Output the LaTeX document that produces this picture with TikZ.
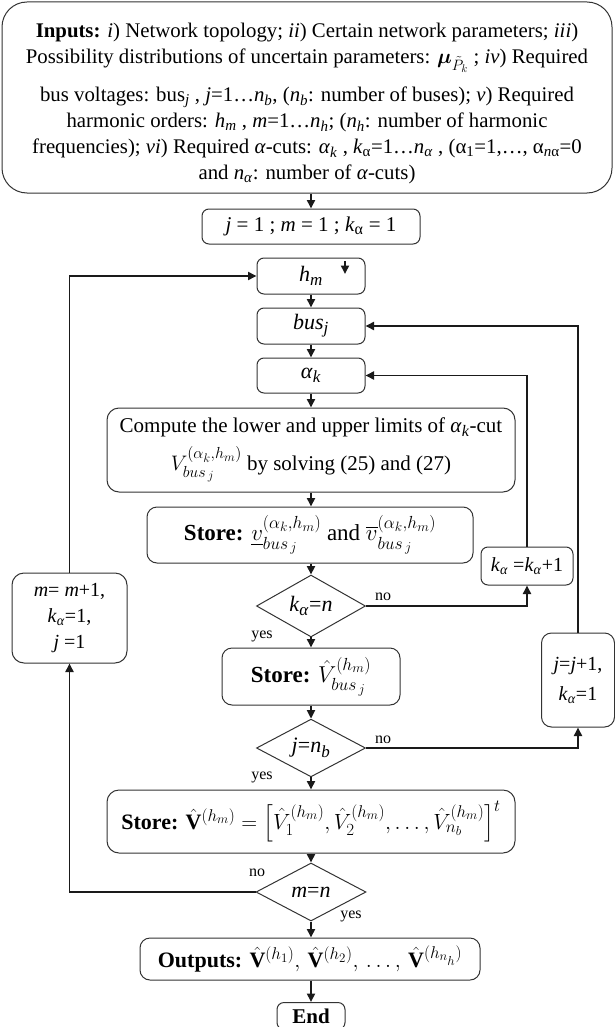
\RequirePackage{fix-cm}
\documentclass[tikz,border=0pt]{standalone}
\usepackage{amsmath,bm}
\usepackage{fontspec}
\setmainfont{Liberation Serif}[ItalicFont={Liberation Serif Italic},BoldFont={Liberation Serif Bold},BoldItalicFont={Liberation Serif Bold Italic}]
\usetikzlibrary{arrows.meta,shapes.geometric}
\DeclareMathSizes{20.8}{20.8}{15}{11}
\DeclareMathSizes{21}{21}{16}{12.5}
\DeclareMathSizes{22}{22}{17}{13}
\DeclareMathSizes{23}{23}{17.5}{13.5}
\newcommand\fs[2]{\fontsize{#1}{#2}\selectfont}
\definecolor{edge}{HTML}{333333}
\definecolor{wire}{HTML}{1A1A1A}
\tikzset{
  box/.style={draw=edge, line width=1pt, rounded corners=9pt, inner sep=0pt, align=center, font=\fs{21}{26}},
  dia/.style={draw=edge, line width=1pt, diamond, inner sep=0pt, font=\fs{22}{26}},
  conn/.style={draw=wire, line width=1.9pt, -{Triangle[length=8.5pt,width=8pt]}},
  lbl/.style={font=\fs{16}{18}, inner sep=0pt},
}
\begin{document}
\begin{tikzpicture}[x=1pt,y=-1pt]
\useasboundingbox (0,0) rectangle (615,1027);
% nodes
\node[box, rounded corners=25pt, minimum width=610pt, minimum height=191pt, font=\fs{20.8}{26}] (inp) at (307,97.5)
 {\rule{0pt}{27pt}\textbf{Inputs:} \textit{i}) Network topology; \textit{ii}) Certain network parameters; \textit{iii})\\
  Possibility distributions of uncertain parameters: $\bm{\mu}_{\tilde{P}_k}$ ; \textit{iv}) Required\\[12pt]
  bus voltages: bus\textsubscript{\textit{j}} , \textit{j}=1\ldots\textit{n}\textsubscript{\textit{b}}, (\textit{n}\textsubscript{\textit{b}}: number of buses); \textit{v}) Required\\
  harmonic orders: \textit{h}\textsubscript{\textit{m}} , \textit{m}=1\ldots\textit{n}\textsubscript{\textit{h}}; (\textit{n}\textsubscript{\textit{h}}: number of harmonic\\
  frequencies); \textit{vi}) Required \textit{α}-cuts: \textit{α}\textsubscript{\textit{k}} , \textit{k}\textsubscript{α}=1\ldots\textit{n}\textsubscript{\textit{α}} , (α\textsubscript{1}=1,\ldots, α\textsubscript{\textit{n}α}=0\\
  and \textit{n}\textsubscript{\textit{α}}: number of \textit{α}-cuts)};
\node[box, rounded corners=7pt, minimum width=218pt, minimum height=35pt] (init) at (311,226.5)
 {\textit{j} = 1 ; \textit{m} = 1 ; \textit{k}\textsubscript{α} = 1};
\node[box, rounded corners=7pt, minimum width=108pt, minimum height=36pt, font=\fs{22}{26}] (hm) at (311,276)
 {\textit{h}\textsubscript{\textit{m}}};
\node[box, rounded corners=7pt, minimum width=108pt, minimum height=36pt, font=\fs{22}{26}] (bus) at (311,326)
 {\textit{bus}\textsubscript{\textit{j}}};
\node[box, rounded corners=7pt, minimum width=108pt, minimum height=35pt, font=\fs{22}{26}] (alp) at (311,375.5)
 {\textit{α}\textsubscript{\textit{k}}};
\node[box, rounded corners=12pt, minimum width=408pt, minimum height=84pt] (comp) at (311,450)
 {Compute the lower and upper limits of \textit{α}\textsubscript{\textit{k}}-cut\\[9pt]
  $V_{bus_{\,j}}^{(\alpha_k,h_m)}$ by solving (25) and (27)};
\node[box, rounded corners=10pt, minimum width=326pt, minimum height=56pt, font=\fs{23}{26}] (st1) at (310,535)
 {\textbf{Store:} $\underline{v}^{(\alpha_k,h_m)}_{bus_{\,j}}$ and $\overline{v}^{(\alpha_k,h_m)}_{bus_{\,j}}$};
\node[box, rounded corners=7pt, minimum width=92pt, minimum height=38pt, font=\fs{20}{24}] (kinc) at (527,566)
 {\textit{k}\textsubscript{\textit{α}} =\textit{k}\textsubscript{\textit{α}}+1};
\node[dia, minimum width=109pt, minimum height=55pt] (d1) at (311,606)
 {\textit{k}\textsubscript{\textit{α}}=\textit{n}};
\node[box, rounded corners=10pt, minimum width=178pt, minimum height=57pt, font=\fs{23}{26}] (st2) at (311,676.5)
 {\textbf{Store:} $\hat{V}^{(h_m)}_{bus_{\,j}}$};
\node[dia, minimum width=109pt, minimum height=55pt] (d2) at (311,748)
 {\textit{j}=\textit{n}\textsubscript{\textit{b}}};
\node[box, rounded corners=10pt, minimum width=73pt, minimum height=94pt, font=\fs{20}{30}] (jbox) at (578,680)
 {\textit{j}=\textit{j}+1,\\ \textit{k}\textsubscript{\textit{α}}=1};
\node[box, rounded corners=12pt, minimum width=115pt, minimum height=90pt, font=\fs{20}{26}] (mbox) at (69.5,618)
 {\textit{m}= \textit{m}+1,\\ \textit{k}\textsubscript{\textit{α}}=1,\\ \textit{j} =1};
\node[box, rounded corners=12pt, minimum width=408pt, minimum height=63pt, font=\fs{22}{26}] (st3) at (311,821.5)
 {\textbf{Store:} $\hat{\mathbf{V}}^{(h_m)}=\left[\hat{V}_1^{(h_m)},\hat{V}_2^{(h_m)},\ldots,\hat{V}_{n_b}^{(h_m)}\right]^t$};
\node[dia, minimum width=110pt, minimum height=58pt] (d3) at (311,892)
 {\textit{m}=\textit{n}};
\node[box, rounded corners=10pt, minimum width=340pt, minimum height=42pt, font=\fs{22}{26}] (outp) at (310,959)
 {\textbf{Outputs:} $\hat{\mathbf{V}}^{(h_1)},\,\hat{\mathbf{V}}^{(h_2)},\,\ldots,\,\hat{\mathbf{V}}^{(h_{n_h})}$};
\node[box, rounded corners=7pt, minimum width=68pt, minimum height=27pt, font=\fs{21}{26}, anchor=north] (endn) at (311,1002)
 {\textbf{End}};
% labels
\node[lbl] (no1) at (383,597) {no};
\node[lbl] (yes1) at (262,636) {yes};
\node[lbl] (no2) at (383,740) {no};
\node[lbl] (yes2) at (262,777) {yes};
\node[lbl] (no3) at (257,873) {no};
\node[lbl] (yes3) at (351,916) {yes};
% connectors
\draw[conn] (init.north |- inp.south) -- (init.north);
\coordinate (hmA) at (345,261);
\coordinate (hmB) at (345,274);
\draw[conn] (hmA) -- (hmB);
\draw[conn] (hm.south) -- (bus.north);
\draw[conn] (bus.south) -- (alp.north);
\draw[conn] (alp.south) -- (comp.north);
\draw[conn] (comp.south) -- (st1.north -| comp.south);
\draw[conn] (comp.south |- st1.south) -- (d1.north);
\draw[conn] (d1.south) -- (st2.north);
\draw[conn] (st2.south) -- (d2.north);
\draw[conn] (d2.south) -- (st3.north -| d2.south);
\draw[conn] (d2.south |- st3.south) -- (d3.north);
\draw[conn] (d3.south) -- (outp.north -| d3.south);
\draw[conn] (d3.south |- outp.south) -- (endn.north);
% loops
\draw[conn] (d1.east) -| (kinc.south);
\draw[conn] (kinc.north) |- (alp.east);
\draw[conn] (d2.east) -| (jbox.south);
\draw[conn] (jbox.north) |- (bus.east);
\draw[conn] (d3.west) -| (mbox.south);
\draw[conn] (mbox.north) |- (hm.west);
\end{tikzpicture}
\end{document}
